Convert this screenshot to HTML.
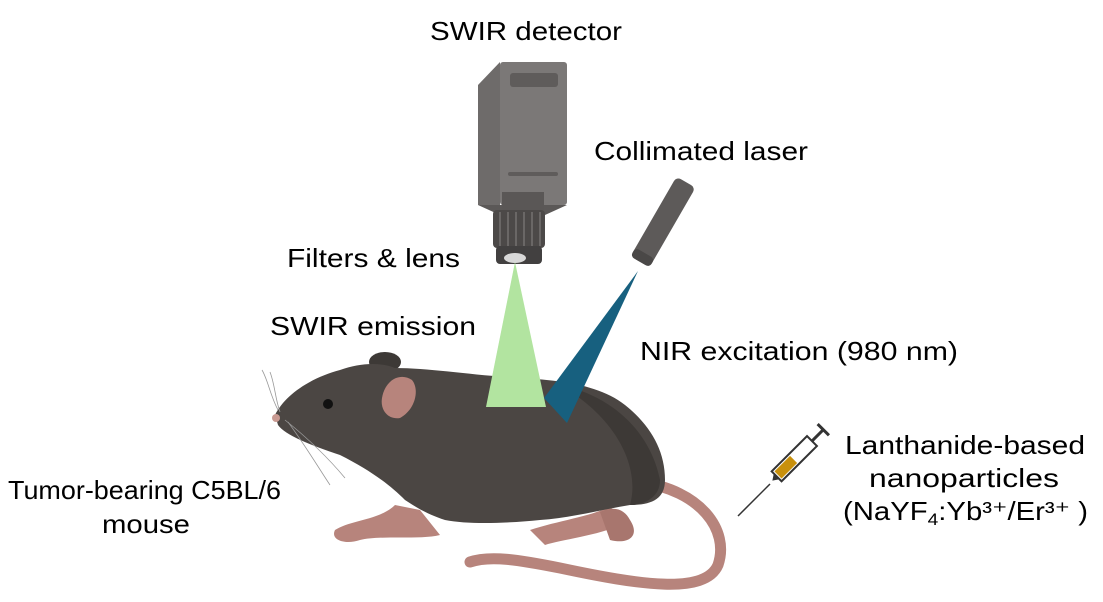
<!DOCTYPE html>
<html><head><meta charset="utf-8"><style>
html,body{margin:0;padding:0;background:#fff;}
svg{display:block;}
text{font-family:"Liberation Sans",Arial,sans-serif;font-size:26px;fill:#000;}
</style></head><body>
<svg width="1103" height="602" viewBox="0 0 1103 602" xmlns="http://www.w3.org/2000/svg">
<!-- camera -->
<polygon points="478,85 500,62 500,205 478,205" fill="#6e6b6a"/>
<rect x="500" y="62" width="67" height="143" rx="3" fill="#7b7877"/>
<rect x="510" y="73" width="48" height="14" rx="3" fill="#5f5c5b"/>
<rect x="508" y="172" width="50" height="4" rx="2" fill="#5f5c5b"/>
<polygon points="478,205 567,205 545,215 500,215" fill="#5b5857"/>
<rect x="502" y="192" width="42" height="20" fill="#5a5756"/>
<rect x="493" y="210" width="52" height="38" rx="4" fill="#4c4948"/>
<g stroke="#6a6766" stroke-width="2">
<line x1="500" y1="212" x2="500" y2="246"/><line x1="508" y1="212" x2="508" y2="246"/><line x1="516" y1="212" x2="516" y2="246"/><line x1="524" y1="212" x2="524" y2="246"/><line x1="532" y1="212" x2="532" y2="246"/><line x1="540" y1="212" x2="540" y2="246"/>
</g>
<rect x="496" y="246" width="46" height="18" rx="4" fill="#424040"/>
<ellipse cx="515" cy="258" rx="11" ry="5" fill="#d8d8d8"/>
<!-- laser -->
<g transform="translate(663,222) rotate(30)">
<rect x="-11" y="-46" width="22" height="92" rx="5" fill="#5d5a59"/>
<rect x="-11" y="36" width="22" height="10" rx="4" fill="#4a4847"/>
</g>
<!-- mouse tail -->
<path d="M640,482 C700,490 730,530 718,565 C705,595 640,585 560,568 C520,560 490,555 470,562" fill="none" stroke="#b7847c" stroke-width="11" stroke-linecap="round"/>
<!-- feet -->
<path d="M335,530 C350,520 380,520 395,505 L420,510 L440,535 C420,540 380,535 360,540 C345,545 330,540 335,530Z" fill="#b7847c"/>
<path d="M530,530 C560,520 600,515 610,505 L620,525 C600,535 560,540 545,545Z" fill="#b7847c"/>
<path d="M600,512 C615,505 625,510 630,520 C640,535 630,545 610,540Z" fill="#a8766e"/>
<!-- ear back -->
<ellipse cx="385" cy="362" rx="16" ry="10" fill="#3d3936"/>
<!-- body -->
<path d="M275,415 C285,395 310,378 340,370 C360,363 380,362 395,368 C430,368 470,375 520,378 C560,380 600,385 625,405 C650,425 665,450 665,480 C665,500 650,505 630,505 C600,510 570,518 540,520 C510,523 470,525 445,520 C430,515 420,510 405,500 C390,485 370,470 340,455 C310,445 285,435 278,425 Z" fill="#4b4643"/>
<path d="M560,385 C610,395 650,430 660,480 C660,500 640,505 630,505 C640,470 620,420 560,385Z" fill="#3d3936"/>
<path d="M382,398 C385,380 400,372 412,380 C420,390 415,410 400,418 C388,420 380,410 382,398Z" fill="#b7847c"/>
<!-- eye -->
<circle cx="328" cy="404" r="5" fill="#111"/>
<circle cx="276" cy="418" r="4" fill="#c99a92"/>
<!-- whiskers -->
<g stroke="#999" stroke-width="0.8" fill="none">
<path d="M278,410 C270,395 268,380 262,370"/><path d="M280,412 C275,398 275,385 270,372"/>
<path d="M285,420 C310,440 330,460 345,478"/><path d="M288,422 C305,445 320,470 330,485"/>
</g>
<!-- beams -->
<polygon points="515,262 486,407 546,407" fill="#b2e4a0"/>
<polygon points="638,271 544,398 567,423" fill="#17607f"/>
<!-- syringe -->
<line x1="738" y1="516" x2="770" y2="484" stroke="#333" stroke-width="1.5"/>
<g transform="translate(795,458) rotate(-45)">
<rect x="-26" y="-7" width="50" height="14" fill="#fff" stroke="#333" stroke-width="2"/>
<rect x="-24" y="-5" width="22" height="10" fill="#c8900c"/>
<line x1="24" y1="0" x2="40" y2="0" stroke="#333" stroke-width="3"/>
<line x1="40" y1="-8" x2="40" y2="8" stroke="#333" stroke-width="3"/>
<polygon points="-26,-4 -32,0 -26,4" fill="#333"/>
</g>
<!-- text -->
<text x="430" y="40" textLength="192" lengthAdjust="spacingAndGlyphs">SWIR detector</text>
<text x="594" y="160" textLength="214" lengthAdjust="spacingAndGlyphs">Collimated laser</text>
<text x="287" y="267" textLength="173" lengthAdjust="spacingAndGlyphs">Filters &amp; lens</text>
<text x="270" y="335" textLength="206" lengthAdjust="spacingAndGlyphs">SWIR emission</text>
<text x="640" y="360" textLength="318" lengthAdjust="spacingAndGlyphs">NIR excitation (980 nm)</text>
<text x="8" y="499" textLength="273" lengthAdjust="spacingAndGlyphs">Tumor-bearing C5BL/6</text>
<text x="102" y="533" textLength="88" lengthAdjust="spacingAndGlyphs">mouse</text>
<text x="845" y="454" textLength="240" lengthAdjust="spacingAndGlyphs">Lanthanide-based</text>
<text x="869" y="487" textLength="190" lengthAdjust="spacingAndGlyphs">nanoparticles</text>
<text x="843" y="520" textLength="245" lengthAdjust="spacingAndGlyphs">(NaYF<tspan font-size="17" dy="5">4</tspan><tspan dy="-5">:Yb³⁺/Er³⁺ )</tspan></text>
</svg>
</body></html>
